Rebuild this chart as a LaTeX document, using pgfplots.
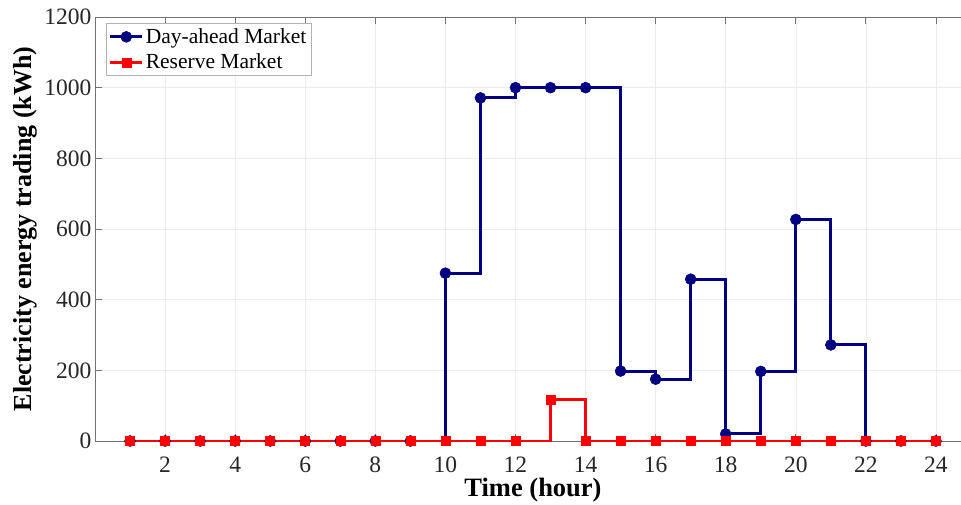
\documentclass[border=0pt]{standalone}
\usepackage{fontspec}
\setmainfont{Liberation Serif}
\usepackage{pgfplots}
\pgfplotsset{compat=1.18}
\definecolor{dablue}{RGB}{0,0,128}
\definecolor{rmred}{RGB}{255,0,0}
\definecolor{ticktext}{RGB}{38,38,38}
\begin{document}
\begin{tikzpicture}
\useasboundingbox (-95pt,-63pt) rectangle (866pt,441pt);
\begin{axis}[
  scale only axis,
  width=876pt, height=424pt,
  xmin=0, xmax=25,
  ymin=0, ymax=1200,
  xtick={2,4,...,24},
  ytick={0,200,...,1200},
  axis line style={draw=gray!90!black, line width=0.8pt},
  tick style={draw=gray!90!black, line width=0.8pt},
  major tick length=7pt,
  grid=major,
  grid style={draw=gray!15, line width=0.6pt},
  tick label style={font=\fontsize{23.5}{25}\selectfont, text=ticktext},
  xticklabel style={inner sep=0pt, yshift=-16pt},
  /pgf/number format/assume math mode=true,
  /pgf/number format/1000 sep={},
  xlabel={\textbf{Time (hour)}},
  ylabel={\textbf{Electricity energy trading (kWh)}},
  xlabel style={font=\fontsize{26.5}{28}\selectfont, at={(axis description cs:0.5,0)}, anchor=center, yshift=-49pt, inner sep=0pt},
  ylabel style={font=\fontsize{26}{28}\selectfont, at={(axis description cs:-0.08,0.5)}, anchor=center, inner sep=0pt},
  legend style={at={(0.012,0.985)}, anchor=north west, font=\fontsize{21.5}{23}\selectfont, draw=gray!60, line width=0.6pt, inner sep=3pt, row sep=5pt},
  legend cell align=left,
  legend image code/.code={\draw[mark repeat=2,mark phase=2] plot coordinates {(0pt,0pt)(16pt,0pt)(32pt,0pt)};},
]
\addplot[const plot mark left, color=dablue, line width=3pt, mark=*, mark size=5.5pt, mark options={fill=dablue, draw=dablue, line width=0.5pt}] coordinates {
(1,0)(2,0)(3,0)(4,0)(5,0)(6,0)(7,0)(8,0)(9,0)(10,475)(11,971)(12,1000)(13,1000)(14,1000)(15,198)(16,175)(17,458)(18,20)(19,197)(20,627)(21,272)(22,0)(23,0)(24,0)
};
\addlegendentry{Day-ahead Market}
\addplot[const plot mark left, color=rmred, line width=3pt, mark=square*, mark size=4.5pt, mark options={fill=rmred, draw=rmred, line width=0.5pt}] coordinates {
(1,0)(2,0)(3,0)(4,0)(5,0)(6,0)(7,0)(8,0)(9,0)(10,0)(11,0)(12,0)(13,118)(14,0)(15,0)(16,0)(17,0)(18,0)(19,0)(20,0)(21,0)(22,0)(23,0)(24,0)
};
\addlegendentry{Reserve Market}
\end{axis}
\end{tikzpicture}
\end{document}
